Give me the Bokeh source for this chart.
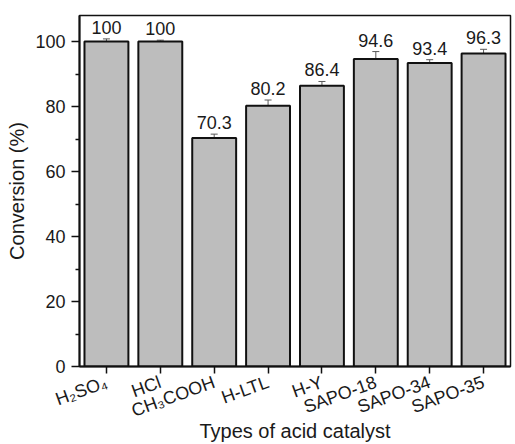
import math
from bokeh.plotting import figure
from bokeh.models import ColumnDataSource, Whisker, TeeHead, LabelSet, Range1d, FactorRange
from bokeh.core.properties import value
from bokeh.embed import file_html
from bokeh.resources import INLINE

catalysts = ["H₂SO₄", "HCl", "CH₃COOH", "H-LTL", "H-Y", "SAPO-18", "SAPO-34", "SAPO-35"]
conversion = [100, 100, 70.3, 80.2, 86.4, 94.6, 93.4, 96.3]
error = [0.8, 0.4, 1.2, 1.8, 1.3, 2.3, 1.0, 1.3]
value_labels = ["100", "100", "70.3", "80.2", "86.4", "94.6", "93.4", "96.3"]
y_ticks = [0, 20, 40, 60, 80, 100]
y_minor = [10, 30, 50, 70, 90]

src = ColumnDataSource(dict(
    cat=catalysts,
    val=conversion,
    upper=[v + e for v, e in zip(conversion, error)],
    lower=[v - e for v, e in zip(conversion, error)],
    lab=value_labels,
))

FONT = "Liberation Sans"
TXT = "#1a1a1a"

p = figure(
    x_range=FactorRange(factors=catalysts, range_padding=0.0),
    y_range=Range1d(0, 108),
    frame_width=431, frame_height=351,
    min_border_left=79, min_border_right=5, min_border_top=15, min_border_bottom=78,
    output_backend="svg", toolbar_location=None,
)
p.vbar(x="cat", top="val", width=0.815, source=src,
       fill_color="#bdbdbd", line_color="#111111", line_width=2)

w = Whisker(source=src, base="cat", upper="upper", lower="lower",
            line_color="#5a5a5a", line_width=1,
            upper_head=TeeHead(size=7, line_color="#5a5a5a", line_width=1),
            lower_head=TeeHead(size=7, line_color="#5a5a5a", line_width=1))
p.add_layout(w)

labels = LabelSet(x="cat", y="upper", text="lab", source=src, y_offset=5,
                  text_align="center", text_baseline="alphabetic",
                  text_font=value(FONT), text_font_size="18px", text_color=TXT)
p.add_layout(labels)

p.xgrid.visible = False
p.ygrid.visible = False
p.outline_line_color = "#111111"
p.outline_line_width = 1.5
p.outline_line_alpha = 1

p.yaxis.ticker = y_ticks
p.yaxis.ticker.minor_ticks = y_minor
p.yaxis.major_tick_out = 8
p.yaxis.major_tick_in = 0
p.yaxis.minor_tick_out = 4
p.yaxis.minor_tick_in = 0
p.xaxis.major_tick_out = 7
p.xaxis.major_tick_in = 0

for ax in (p.xaxis, p.yaxis):
    ax.axis_line_width = 2
    ax.axis_line_color = "#111111"
    ax.major_tick_line_color = "#111111"
    ax.major_tick_line_width = 1.5
    ax.minor_tick_line_color = "#111111"
    ax.minor_tick_line_width = 1.5
    ax.major_label_text_font = FONT
    ax.major_label_text_color = TXT
    ax.axis_label_text_font = FONT
    ax.axis_label_text_font_style = "normal"
    ax.axis_label_text_font_size = "20px"
    ax.axis_label_text_color = TXT

p.yaxis.major_label_text_font_size = "18px"
p.yaxis.major_label_standoff = 6
p.yaxis.axis_label = "Conversion (%)"
p.yaxis.axis_label_standoff = 4

p.xaxis.major_label_text_font_size = "18px"
p.xaxis.major_label_orientation = math.radians(20)
p.xaxis.major_label_standoff = 8
p.xaxis.axis_label = "Types of acid catalyst"
p.xaxis.axis_label_standoff = -13

open("out.html", "w").write(file_html(p, INLINE))
